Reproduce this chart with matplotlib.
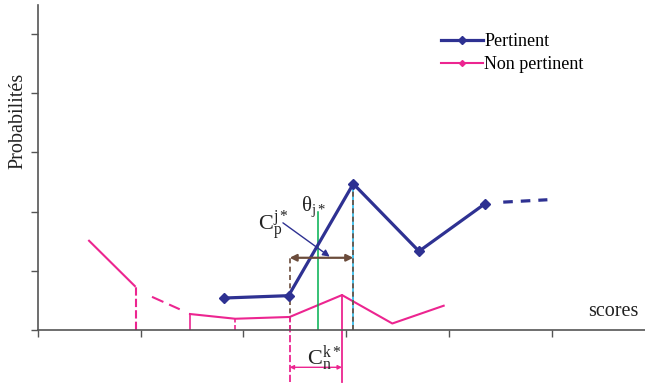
import matplotlib
matplotlib.use("Agg")
import matplotlib.pyplot as plt
from matplotlib.lines import Line2D

plt.rcParams['font.family'] = ['Liberation Serif', 'DejaVu Serif']
plt.rcParams['mathtext.fontset'] = 'custom'
plt.rcParams['mathtext.rm'] = 'Liberation Serif'
plt.rcParams['mathtext.it'] = 'Liberation Serif'
plt.rcParams['mathtext.default'] = 'regular'

# ---- data (x in tick units, y in tick units) ----
pert_x = [1.81, 2.44, 3.07, 3.71, 4.35]
pert_y = [0.54, 0.58, 2.47, 1.33, 2.13]
pert_ext_x = [4.53, 4.96]
pert_ext_y = [2.16, 2.20]

nonp_a_x = [0.49, 0.95]
nonp_a_y = [1.52, 0.73]
nonp_b_x = [1.11, 1.38]
nonp_b_y = [0.56, 0.35]
nonp_c_x = [1.48, 1.92, 2.45, 2.96, 3.45, 3.95]
nonp_c_y = [0.27, 0.19, 0.22, 0.59, 0.11, 0.41]

theta = 2.73
theta_top = 1.99
cp_bounds = [2.45, 3.07]
cp_level = 1.22
cn_bounds = [2.45, 2.96]
cn_level = -0.63
cn_bottom = -0.88

x_ticks = [0, 1, 2, 3, 4, 5]
y_ticks = [0, 1, 2, 3, 4, 5]

BLUE = '#2E3192'
PINK = '#EC2590'
GREEN = '#00B050'
BROWN = '#6B4C3B'
CYAN = '#29B6E8'
TXT = '#222222'

fig = plt.figure(figsize=(6.45, 3.85), dpi=100)
ax = fig.add_axes([38/645, 55/385, 607/645, 325/385])
ax.set_xlim(0, 607/102.7)
ax.set_ylim(0, 325/59.2)
for s in ['top', 'right']:
    ax.spines[s].set_visible(False)
for s in ['left', 'bottom']:
    ax.spines[s].set_color('#555555')
    ax.spines[s].set_linewidth(1.2)
ax.set_xticks(x_ticks)
ax.set_yticks(y_ticks)
ax.set_xticklabels([])
ax.set_yticklabels([])
ax.tick_params(direction='out', length=5, width=1, color='#555555')

# non pertinent
ax.plot(nonp_a_x, nonp_a_y, color=PINK, lw=1.5, solid_capstyle='butt')
ax.plot(nonp_b_x, nonp_b_y, color=PINK, lw=1.5, ls=(0, (6, 3)))
ax.plot(nonp_c_x, nonp_c_y, color=PINK, lw=1.5)
ax.plot([nonp_a_x[1]] * 2, [0, nonp_a_y[1]], color=PINK, lw=1.5, ls=(0, (4, 1.5)))
ax.plot([nonp_c_x[0]] * 2, [0, nonp_c_y[0]], color=PINK, lw=1.2)
ax.plot([nonp_c_x[1]] * 2, [0, nonp_c_y[1]], color=PINK, lw=1.2, ls=(0, (3, 1.5)))

# theta line
ax.plot([theta, theta], [0, theta_top], color=GREEN, lw=1.1)

# Cp bounds verticals
ax.plot([cp_bounds[1]] * 2, [0, pert_y[2]], color=CYAN, lw=1.2)
ax.plot([cp_bounds[1]] * 2, [0, pert_y[2]], color=BROWN, lw=1.2, ls=(0, (3, 2)))
ax.plot([cp_bounds[0]] * 2, [0, cp_level], color=BROWN, lw=1.2, ls=(0, (3, 2)))

# Cn verticals (below axis)
ax.plot([cn_bounds[0]] * 2, [cn_bottom, nonp_c_y[2]], color=PINK, lw=1.3,
        ls=(0, (4, 1.5)), clip_on=False)
ax.plot([cn_bounds[1]] * 2, [cn_bottom, nonp_c_y[3]], color=PINK, lw=1.3, clip_on=False)

# pertinent
ax.plot(pert_x, pert_y, color=BLUE, lw=2.3, marker='D', ms=5)
ax.plot(pert_ext_x, pert_ext_y, color=BLUE, lw=2.3, ls=(0, (3, 2.5)))

# Cp double arrow
ax.annotate('', xy=(cp_bounds[0], cp_level), xytext=(cp_bounds[1], cp_level),
            arrowprops=dict(arrowstyle='<|-|>', color=BROWN, lw=1.6,
                            mutation_scale=10, shrinkA=0, shrinkB=0))
# Cn double arrow
ax.annotate('', xy=(cn_bounds[0], cn_level), xytext=(cn_bounds[1], cn_level),
            arrowprops=dict(arrowstyle='<|-|>', color=PINK, lw=1.0,
                            mutation_scale=6, shrinkA=0, shrinkB=0),
            annotation_clip=False)

# labels
ax.text(2.56, 2.01, r'$\theta_{j*}$', fontsize=15,
        ha='left', va='baseline', color=TXT)
ax.text(2.14, 1.69, r'$C_{p}^{j*}$', fontsize=16,
        ha='left', va='baseline', color=TXT)
ax.annotate('', xy=(2.84, 1.24), xytext=(2.385, 1.81),
            arrowprops=dict(arrowstyle='-|>', color=BLUE, lw=1.0,
                            mutation_scale=10, shrinkA=0, shrinkB=0))
ax.text(2.62, -0.58, r'$C_{n}^{k*}$',
        fontsize=16, ha='left', va='baseline', color=TXT, clip_on=False)

fig.text(18/645, 1 - 121/385, 'Probabilités', rotation=90, fontsize=14.5,
         ha='center', va='center', color=TXT)
fig.text(613/645, 1 - 312/385, 'scores', fontsize=14.5, ha='center', va='center',
         color=TXT)

handles = [Line2D([], [], color=BLUE, lw=2.3, marker='D', ms=4),
           Line2D([], [], color=PINK, lw=1.5, marker='D', ms=3)]
ax.legend(handles, ['Pertinent', 'Non pertinent'], loc='upper left',
          bbox_to_anchor=(441/645, 1 - 33/385), bbox_transform=fig.transFigure,
          frameon=False, fontsize=13, handlelength=2.3, handletextpad=0.1,
          labelspacing=0.35, borderpad=0, borderaxespad=0)

fig.savefig('out.png', dpi=100)
